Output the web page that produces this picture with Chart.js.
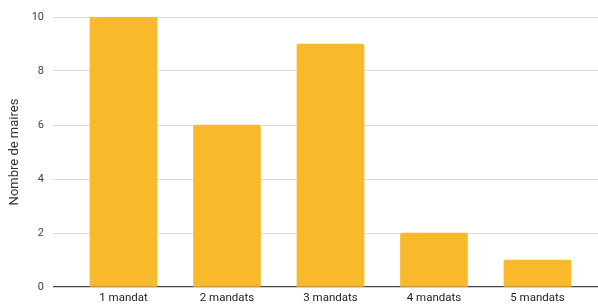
<!DOCTYPE html>
<html><head><meta charset="utf-8">
<script src="https://cdn.jsdelivr.net/npm/chart.js@4"></script>
<style>html,body{margin:0;padding:0;background:#fff}#c{display:block}</style>
</head><body>
<canvas id="c" width="598" height="307"></canvas>
<script>
const categories = ["1 mandat", "2 mandats", "3 mandats", "4 mandats", "5 mandats"];
const values = [10, 6, 9, 2, 1];
const yTicks = [0, 2, 4, 6, 8, 10];
const yTitle = "Nombre de maires";

Chart.defaults.font.family = "Roboto, 'Noto Sans', sans-serif";
new Chart(document.getElementById('c'), {
  type: 'bar',
  data: {
    datasets: [{
      data: values.map((v, i) => ({x: i, y: v})),
      backgroundColor: '#F8B92D',
      barThickness: 67,
      borderRadius: 2,
      borderSkipped: 'bottom'
    }]
  },
  options: {
    responsive: false,
    animation: false,
    layout: {padding: {top: 17, right: 0, left: 0, bottom: 0}},
    plugins: {legend: {display: false}, tooltip: {enabled: false}},
    scales: {
      x: {
        type: 'linear',
        offset: false,
        min: -0.681,
        max: 4.585,
        grid: {display: false, drawTicks: false},
        border: {display: false},
        afterBuildTicks: s => { s.ticks = categories.map((c, i) => ({value: i})); },
        ticks: {
          callback: v => categories[v],
          color: '#222',
          font: {size: 11.5},
          padding: 4,
          maxRotation: 0,
          autoSkip: false
        },
        afterFit: s => { s.height = 20; }
      },
      y: {
        min: 0, max: 10,
        afterBuildTicks: s => { s.ticks = yTicks.map(v => ({value: v})); },
        grid: {
          color: c => c.tick && c.tick.value === 0 ? '#444' : '#dcdcdc',
          lineWidth: c => c.tick && c.tick.value === 0 ? 1.3 : 1,
          drawTicks: false
        },
        border: {display: false},
        ticks: {color: '#444', font: {size: 11}, padding: 9},
        title: {display: true, text: yTitle, color: '#333', font: {size: 13}, padding: {top: 7, bottom: 0}},
        afterFit: s => { s.width = 53; }
      }
    }
  }
});
</script>
</body></html>
